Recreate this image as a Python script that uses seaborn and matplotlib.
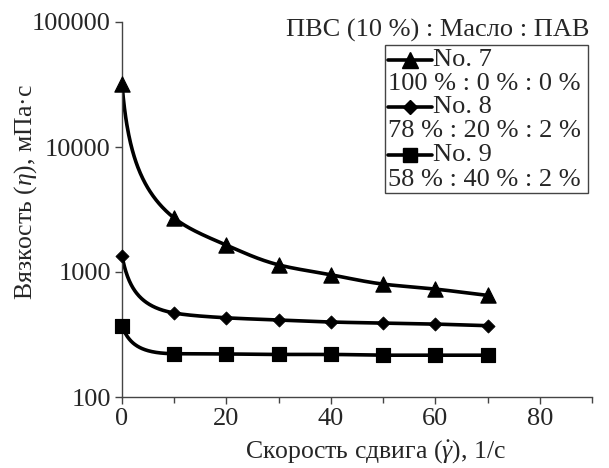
import numpy as np
import pandas as pd
import matplotlib
matplotlib.use("Agg")
import matplotlib.pyplot as plt
import seaborn as sns
from matplotlib.patches import Rectangle

# ---- data ----
shear_rate = [0, 10, 20, 30, 40, 50, 60, 70]
visc_no7 = [32000, 2700, 1640, 1140, 950, 800, 730, 650]
visc_no8 = [1350, 470, 430, 413, 398, 390, 383, 372]
visc_no9 = [370, 222, 221, 219, 219, 216, 216, 216]
series_names = ["No. 7", "No. 8", "No. 9"]
series_ratios = ["100 % : 0 % : 0 %", "78 % : 20 % : 2 %", "58 % : 40 % : 2 %"]
legend_title = "ПВС (10 %) : Масло : ПАВ"
x_ticks = [0, 20, 40, 60, 80]
y_ticks = [100, 1000, 10000, 100000]

sns.set_theme(style="ticks")
plt.rcParams['font.family'] = ['Liberation Serif', 'DejaVu Serif']
plt.rcParams['mathtext.fontset'] = 'custom'
plt.rcParams['mathtext.rm'] = 'Liberation Serif'
plt.rcParams['mathtext.it'] = 'Liberation Serif:italic'

FS = 19
markers = {"No. 7": "^", "No. 8": "D", "No. 9": "s"}
sizes = {"No. 7": 120, "No. 8": 45, "No. 9": 110}

rows = []
for name, vals in zip(series_names, [visc_no7, visc_no8, visc_no9]):
    for xv, yv in zip(shear_rate, vals):
        rows.append({"series": name, "x": xv, "y": yv})
df = pd.DataFrame(rows)


def pchip(x, y, xn):
    x = np.asarray(x, float); y = np.asarray(y, float)
    h = np.diff(x); d = np.diff(y) / h
    m = np.zeros_like(y)
    for k in range(1, len(x) - 1):
        if d[k - 1] * d[k] <= 0:
            m[k] = 0
        else:
            w1 = 2 * h[k] + h[k - 1]; w2 = h[k] + 2 * h[k - 1]
            m[k] = (w1 + w2) / (w1 / d[k - 1] + w2 / d[k])
    m[0] = d[0]; m[-1] = d[-1]
    idx = np.clip(np.searchsorted(x, xn) - 1, 0, len(x) - 2)
    t = (xn - x[idx]) / h[idx]
    h00 = 2 * t**3 - 3 * t**2 + 1; h10 = t**3 - 2 * t**2 + t
    h01 = -2 * t**3 + 3 * t**2; h11 = t**3 - t**2
    return h00 * y[idx] + h10 * h[idx] * m[idx] + h01 * y[idx + 1] + h11 * h[idx] * m[idx + 1]


# smooth curve through the measured points (rendering only)
c = 0.8
crow = []
xs = np.linspace(0, 70, 600)
for name in series_names:
    sub = df[df.series == name]
    u = np.log(sub.x.values + c)
    ly = np.log10(sub.y.values)
    yy = 10 ** pchip(u, ly, np.log(xs + c))
    crow.append(pd.DataFrame({"series": name, "x": xs, "y": yy}))
curves = pd.concat(crow)

fig = plt.figure(figsize=(6.09, 4.68), dpi=100)
ax = fig.add_axes([122 / 609, 1 - 397 / 468, 470 / 609, 375 / 468])

sns.lineplot(data=curves, x="x", y="y", units="series", estimator=None,
             color="black", lw=2.6, ax=ax, legend=False, sort=False)
for name in series_names:
    sub = df[df.series == name]
    sns.scatterplot(data=sub, x="x", y="y", marker=markers[name], s=sizes[name],
                    color="black", edgecolor="black", ax=ax, legend=False, zorder=5,
                    clip_on=False)

ax.set_yscale("log")
ax.set_xlim(0, 90)
ax.set_ylim(100, 100000)
ax.set_xticks(x_ticks)
ax.set_xticks([10, 30, 50, 70, 90], minor=True)
ax.set_yticks(y_ticks)
ax.set_yticklabels([str(v) for v in y_ticks])
ax.yaxis.set_minor_locator(matplotlib.ticker.NullLocator())
ax.tick_params(axis="both", which="major", labelsize=FS, length=5, width=1,
               color="#444444", pad=3)
ax.tick_params(axis="x", which="minor", length=4, width=1, color="#444444")
for s in ["top", "right"]:
    ax.spines[s].set_visible(False)
for s in ["left", "bottom"]:
    ax.spines[s].set_color("#444444")
    ax.spines[s].set_linewidth(1)

ax.set_xlabel("Скорость сдвига ($\\dot{\\it{\\gamma}}$), 1/с", fontsize=18.5)
ax.set_ylabel("Вязкость ($\\it{\\eta}$), мПа·с", fontsize=18.5)
ax.xaxis.label.set_va("center")
ax.yaxis.label.set_va("center")
ax.xaxis.set_label_coords((375 - 122) / 470, (397 - 452) / 375)
ax.yaxis.set_label_coords((26 - 122) / 470, (397 - 192) / 375)

# legend drawn in axes coordinates
def ax_pt(px, py):
    return ((px - 122) / 470, (397 - py) / 375)

ax.text(*ax_pt(589, 30), legend_title, ha="right", va="center", fontsize=FS,
        transform=ax.transAxes)
bx0, by0 = ax_pt(385, 193)
bx1, by1 = ax_pt(588, 45)
ax.add_patch(Rectangle((bx0, by0), bx1 - bx0, by1 - by0, transform=ax.transAxes,
                       fill=False, edgecolor="#444444", lw=1, clip_on=False))
name_y = [60, 107, 155]
ratio_y = [84, 131, 180]
for name, ratio, ny, ry in zip(series_names, series_ratios, name_y, ratio_y):
    hx0, hy = ax_pt(388, ny)
    hx1, _ = ax_pt(432, ny)
    ax.plot([hx0, hx1], [hy, hy], color="black", lw=2.6, transform=ax.transAxes,
            clip_on=False)
    ax.plot([(hx0 + hx1) / 2], [hy], marker=markers[name], color="black",
            markersize=np.sqrt(sizes[name]), transform=ax.transAxes, clip_on=False)
    ax.text(hx1 + 0.002, hy, name, ha="left", va="center", fontsize=FS,
            transform=ax.transAxes)
    ax.text(*ax_pt(388, ry), ratio, ha="left", va="center", fontsize=FS,
            transform=ax.transAxes)

fig.savefig("out.png", dpi=100)
